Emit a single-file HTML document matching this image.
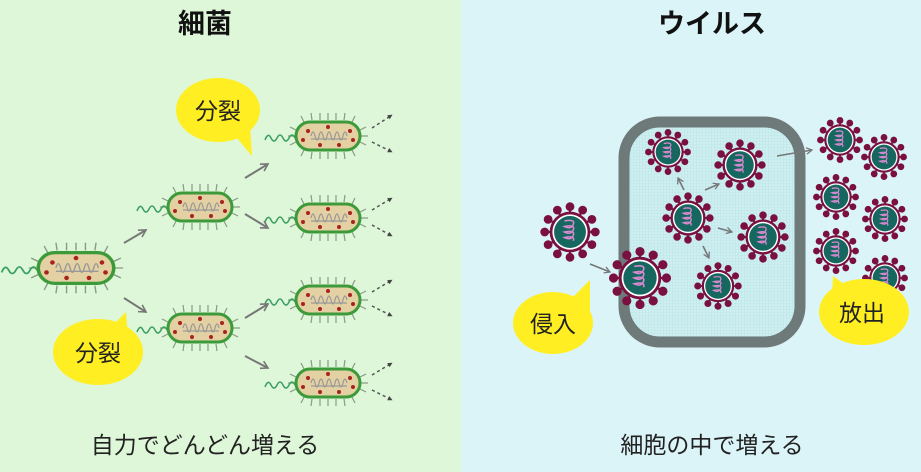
<!DOCTYPE html>
<html><head><meta charset="utf-8"><style>
html,body{margin:0;padding:0;width:921px;height:472px;overflow:hidden}
svg{display:block}
text{font-family:"Liberation Sans","Noto Sans CJK JP",sans-serif}
</style></head><body>
<svg width="921" height="472" viewBox="0 0 921 472" xmlns="http://www.w3.org/2000/svg">
<defs>
<pattern id="grid" width="3" height="3" patternUnits="userSpaceOnUse">
<rect width="3" height="3" fill="#cdeff1"/><path d="M0 0H3M0 0V3" stroke="#b4dfe2" stroke-width="0.6"/>
</pattern>
<marker id="ah" viewBox="0 0 10 10" refX="8" refY="5" markerWidth="5" markerHeight="5" orient="auto"><path d="M1 1L8 5L1 9" fill="none" stroke="#777" stroke-width="1.6"/></marker>
<marker id="ah2" viewBox="0 0 10 10" refX="8" refY="5" markerWidth="4" markerHeight="4" orient="auto"><path d="M1 1L9 5L1 9Z" fill="#444"/></marker>
<g id="bac">
<g stroke="#8a9a8a" stroke-width="1.2">
<path d="M-24-14l-3-6M-16-16l-1-7M-8-16l0-7M0-16l0-7M8-16l0-7M16-16l1-7M24-14l3-6M-24 14l-3 6M-16 16l-1 7M-8 16l0 7M0 16l0 7M8 16l0 7M16 16l1 7M24 14l3 6M-32-6l-6-3M-33 0l-7 0M-32 6l-6 3M32-6l6-3M33 0l7 0M32 6l6 3"/>
</g>
<path d="M-33 2q-3-6-6 0t-6 0t-6 0t-6 0t-6 2" fill="none" stroke="#3aa060" stroke-width="1.5"/>
<rect x="-32" y="-14" width="64" height="28" rx="14" fill="#e3d0a3" stroke="#3d9a3a" stroke-width="3"/>
<path d="M-17 0q2-8 4 0t4 0t4 0t4 0t4 0t4 0t4 0t4 0t4 0 M-17 3h36" fill="none" stroke="#999" stroke-width="1.2"/>
<g fill="#a8231c"><circle cx="-20" cy="-5" r="2"/><circle cx="0" cy="-9" r="2"/><circle cx="22" cy="-5" r="2"/><circle cx="-25" cy="4" r="2"/><circle cx="-8" cy="9" r="2"/><circle cx="11" cy="9" r="2"/><circle cx="25" cy="4" r="2"/></g>
</g>
<g id="vir">
<g stroke="#7a1040" stroke-width="2" fill="#7a1040">
<path d="M0-18V-22M0 18V22M-18 0H-22M18 0H22M9-15.6l2-3.5M-9-15.6l-2-3.5M9 15.6l2 3.5M-9 15.6l-2 3.5M15.6-9l3.5-2M-15.6-9l-3.5-2M15.6 9l3.5 2M-15.6 9l-3.5 2"/>
<circle cx="0" cy="-23" r="3"/><circle cx="0" cy="23" r="3"/><circle cx="-23" cy="0" r="3"/><circle cx="23" cy="0" r="3"/>
<circle cx="11.5" cy="-19.9" r="3"/><circle cx="-11.5" cy="-19.9" r="3"/><circle cx="11.5" cy="19.9" r="3"/><circle cx="-11.5" cy="19.9" r="3"/>
<circle cx="19.9" cy="-11.5" r="3"/><circle cx="-19.9" cy="-11.5" r="3"/><circle cx="19.9" cy="11.5" r="3"/><circle cx="-19.9" cy="11.5" r="3"/>
</g>
<circle r="18.5" fill="#7a1040"/><circle r="16" fill="#fff"/><circle r="14.5" fill="#16675f"/>
<path d="M-5-10q10-2 8 3t-8 2q10-2 8 3t-8 2q10-2 8 3t-8 2q10-2 8 3" fill="none" stroke="#d88ad0" stroke-width="1.4"/>
</g>
</defs>
<rect x="0" y="0" width="461" height="472" fill="#ddf7d8"/>
<rect x="461" y="0" width="460" height="472" fill="#dbf4f8"/>
<text x="205" y="33" font-size="27" font-weight="bold" text-anchor="middle" fill="#111">細菌</text>
<text x="712" y="33" font-size="27" font-weight="bold" text-anchor="middle" fill="#111">ウイルス</text>
<text x="205" y="453" font-size="23" text-anchor="middle" fill="#222">自力でどんどん増える</text>
<text x="712" y="453" font-size="23" text-anchor="middle" fill="#222">細胞の中で増える</text>

<use href="#bac" transform="translate(76,268) scale(1.18,1.1)"/>
<use href="#bac" transform="translate(200,207)"/>
<use href="#bac" transform="translate(200,328)"/>
<use href="#bac" transform="translate(328,136)"/>
<use href="#bac" transform="translate(328,218)"/>
<use href="#bac" transform="translate(328,300)"/>
<use href="#bac" transform="translate(328,383)"/>
<g stroke="#777" stroke-width="2" fill="none" marker-end="url(#ah)">
<path d="M124 243L146 230"/><path d="M124 298L146 312"/>
<path d="M245 178L268 164"/><path d="M245 214L268 228"/>
<path d="M245 318L268 304"/><path d="M245 356L268 368"/>
</g>
<g stroke="#555" stroke-width="1.5" stroke-dasharray="3,3" fill="none" marker-end="url(#ah2)">
<path d="M372 128L392 115"/><path d="M372 142L392 152"/><path d="M372 210L392 198"/><path d="M372 225L392 236"/><path d="M372 292L392 280"/><path d="M372 306L392 316"/><path d="M372 375L392 363"/><path d="M372 390L392 400"/>
</g>
<g fill="#ffee22">
<ellipse cx="218" cy="110" rx="42" ry="32"/><path d="M232 132L252 156L250 126Z"/>
<ellipse cx="98" cy="352" rx="45" ry="33"/><path d="M112 326L126 312L128 340Z"/>
<ellipse cx="553" cy="323" rx="40" ry="31"/><path d="M570 300L590 280L590 312Z"/>
</g>
<g font-size="23" fill="#222" text-anchor="middle">
<text x="218" y="119">分裂</text><text x="98" y="361">分裂</text>
<text x="553" y="332">侵入</text>
</g>
<rect x="624" y="122" width="176" height="220" rx="36" fill="url(#grid)" stroke="#6e7a7a" stroke-width="11"/>
<g stroke="#777" stroke-width="1.6" fill="none" marker-end="url(#ah)">
<path d="M590 264L610 272"/><path d="M684 190L678 178"/><path d="M705 190L719 184"/>
<path d="M718 228L732 232"/><path d="M703 246L709 258"/><path d="M777 156L812 150"/>
</g>
<use href="#vir" transform="translate(570,232) scale(1.1)"/>
<use href="#vir" transform="translate(640,278) scale(1.15)"/>
<use href="#vir" transform="translate(668,152) scale(0.85)"/>
<use href="#vir" transform="translate(740,165) scale(0.95)"/>
<use href="#vir" transform="translate(688,218) scale(0.95)"/>
<use href="#vir" transform="translate(763,237) scale(0.95)"/>
<use href="#vir" transform="translate(718,286) scale(0.88)"/>
<use href="#vir" transform="translate(840,140) scale(0.85)"/>
<use href="#vir" transform="translate(884,157) scale(0.85)"/>
<use href="#vir" transform="translate(836,197) scale(0.85)"/>
<use href="#vir" transform="translate(885,219) scale(0.85)"/>
<use href="#vir" transform="translate(836,251) scale(0.85)"/>
<use href="#vir" transform="translate(885,278) scale(0.85)"/>
<ellipse cx="864" cy="312" rx="45" ry="33" fill="#ffee22"/><path d="M832 296L833 276L852 290Z" fill="#ffee22"/>
<text x="862" y="321" font-size="23" fill="#222" text-anchor="middle">放出</text>
</svg>
</body></html>
